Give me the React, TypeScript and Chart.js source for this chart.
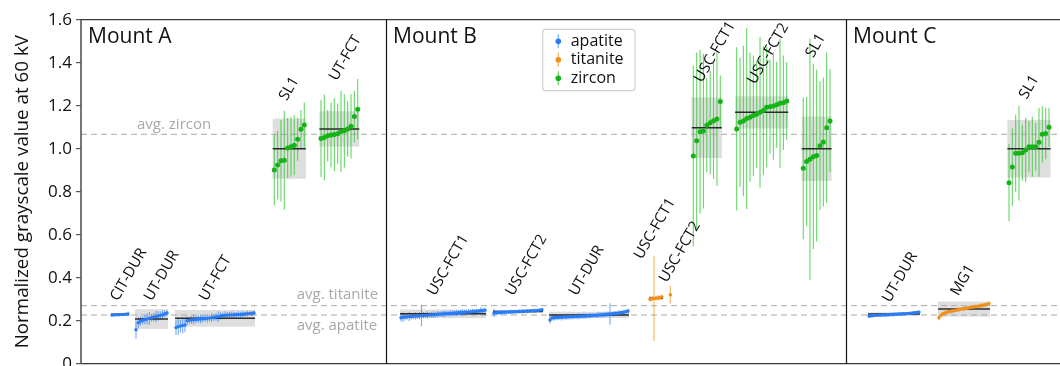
import React, { useEffect, useRef } from "react";
import { Chart, registerables } from "chart.js";

Chart.register(...registerables);

const FONT = '"Open Sans", "DejaVu Sans", sans-serif';

// ---- axis ----
const yTickValues = [0, 0.2, 0.4, 0.6, 0.8, 1.0, 1.2, 1.4, 1.6];
const yTickLabels = ["0", "0.2", "0.4", "0.6", "0.8", "1.0", "1.2", "1.4", "1.6"];
const yTitle = "Normalized grayscale value at 60 kV";

// ---- mounts and minerals ----
const mountNames = ["Mount A", "Mount B", "Mount C"];
const mineralNames = ["apatite", "titanite", "zircon"];

// ---- reference averages per mineral ----
const avgNames = ["avg. zircon", "avg. titanite", "avg. apatite"];
const avgValues = [1.067, 0.27, 0.2265];

// ---- per-grain normalized values and 1-sigma errors ----
// Mount A
const aCitDurAp = [0.226, 0.227, 0.228, 0.228, 0.229, 0.229, 0.230, 0.231];
const aCitDurApErr = [0.007, 0.006, 0.006, 0.005, 0.006, 0.007, 0.006, 0.012];
const aUtDurAp = [0.158, 0.190, 0.197, 0.201, 0.205, 0.208, 0.211, 0.214, 0.216, 0.219, 0.222, 0.225, 0.228, 0.232, 0.236];
const aUtDurApErr = [0.042, 0.026, 0.020, 0.018, 0.022, 0.024, 0.030, 0.018, 0.020, 0.026, 0.022, 0.018, 0.020, 0.015, 0.012];
const aUtFctAp = [0.168, 0.172, 0.175, 0.178, 0.180, 0.200, 0.202, 0.203, 0.205, 0.206, 0.207, 0.208, 0.209, 0.210, 0.211, 0.212, 0.214, 0.215, 0.217, 0.219, 0.222, 0.224, 0.225, 0.226, 0.227, 0.227, 0.228, 0.228, 0.229, 0.229, 0.230, 0.231, 0.232, 0.233, 0.234, 0.236];
const aUtFctApErr = [0.034, 0.038, 0.030, 0.036, 0.032, 0.020, 0.016, 0.018, 0.022, 0.015, 0.017, 0.020, 0.016, 0.014, 0.018, 0.016, 0.020, 0.015, 0.017, 0.024, 0.016, 0.014, 0.018, 0.015, 0.013, 0.016, 0.014, 0.012, 0.015, 0.013, 0.014, 0.012, 0.013, 0.011, 0.012, 0.010];
const aSl1Zr = [0.901, 0.924, 0.944, 0.946, 1.003, 1.009, 1.016, 1.044, 1.090, 1.110];
const aSl1ZrErr = [0.165, 0.16, 0.19, 0.23, 0.14, 0.14, 0.14, 0.10, 0.09, 0.105];
const aUtFctZr = [1.048, 1.052, 1.060, 1.064, 1.066, 1.070, 1.080, 1.083, 1.092, 1.105, 1.150, 1.184];
const aUtFctZrErr = [0.18, 0.20, 0.12, 0.15, 0.17, 0.14, 0.19, 0.17, 0.13, 0.15, 0.12, 0.14];

// Mount B
const bUscFct1Ap = [0.214, 0.216, 0.217, 0.218, 0.219, 0.220, 0.221, 0.222, 0.222, 0.223, 0.224, 0.225, 0.225, 0.226, 0.227, 0.228, 0.228, 0.229, 0.230, 0.231, 0.231, 0.232, 0.233, 0.233, 0.234, 0.235, 0.236, 0.236, 0.237, 0.238, 0.238, 0.239, 0.240, 0.240, 0.241, 0.242, 0.243, 0.244, 0.245, 0.246, 0.247, 0.249];
const bUscFct1ApErr = [0.018, 0.022, 0.016, 0.014, 0.020, 0.015, 0.013, 0.017, 0.014, 0.016, 0.050, 0.015, 0.013, 0.017, 0.012, 0.014, 0.016, 0.013, 0.015, 0.012, 0.014, 0.016, 0.013, 0.012, 0.015, 0.013, 0.011, 0.014, 0.012, 0.013, 0.015, 0.012, 0.011, 0.013, 0.012, 0.014, 0.011, 0.012, 0.010, 0.018, 0.011, 0.012];
const bUscFct2Ap = [0.236, 0.237, 0.238, 0.238, 0.239, 0.239, 0.240, 0.240, 0.241, 0.241, 0.242, 0.242, 0.243, 0.243, 0.244, 0.244, 0.245, 0.245, 0.246, 0.246, 0.247, 0.248, 0.249, 0.251];
const bUscFct2ApErr = [0.020, 0.010, 0.009, 0.011, 0.010, 0.009, 0.010, 0.008, 0.011, 0.009, 0.010, 0.008, 0.010, 0.009, 0.011, 0.008, 0.010, 0.009, 0.008, 0.010, 0.009, 0.008, 0.009, 0.008];
const bUtDurAp = [0.203, 0.213, 0.214, 0.215, 0.215, 0.216, 0.216, 0.217, 0.217, 0.218, 0.218, 0.219, 0.219, 0.220, 0.220, 0.221, 0.221, 0.222, 0.222, 0.223, 0.223, 0.224, 0.225, 0.225, 0.226, 0.227, 0.227, 0.228, 0.229, 0.230, 0.231, 0.232, 0.233, 0.234, 0.235, 0.237, 0.238, 0.240, 0.242, 0.245];
const bUtDurApErr = [0.016, 0.012, 0.014, 0.011, 0.013, 0.012, 0.015, 0.011, 0.012, 0.014, 0.011, 0.013, 0.012, 0.011, 0.014, 0.012, 0.011, 0.013, 0.012, 0.011, 0.013, 0.012, 0.011, 0.012, 0.013, 0.011, 0.012, 0.011, 0.013, 0.012, 0.050, 0.011, 0.012, 0.011, 0.012, 0.010, 0.011, 0.012, 0.010, 0.011];
const bUscFct1Ti = [0.300, 0.302, 0.304, 0.305, 0.306, 0.308, 0.311];
const bUscFct1TiErr = [0.012, 0.010, 0.198, 0.011, 0.012, 0.010, 0.011];
const bUscFct2Ti = [0.321];
const bUscFct2TiErr = [0.042];
const bUscFct1Zr = [0.966, 1.037, 1.079, 1.082, 1.109, 1.121, 1.130, 1.138, 1.220];
const bUscFct1ZrErr = [0.42, 0.41, 0.38, 0.36, 0.22, 0.24, 0.27, 0.31, 0.12];
const bUscFct2Zr = [1.092, 1.123, 1.129, 1.140, 1.146, 1.154, 1.160, 1.169, 1.178, 1.193, 1.195, 1.199, 1.205, 1.211, 1.214, 1.222];
const bUscFct2ZrErr = [0.38, 0.30, 0.35, 0.42, 0.30, 0.28, 0.25, 0.35, 0.30, 0.28, 0.22, 0.25, 0.20, 0.30, 0.22, 0.18];
const bSl1Zr = [0.909, 0.940, 0.951, 0.963, 0.968, 1.014, 1.031, 1.098, 1.129];
const bSl1ZrErr = [0.33, 0.30, 0.56, 0.43, 0.40, 0.30, 0.30, 0.35, 0.24];

// Mount C
const cUtDurAp = [0.222, 0.223, 0.224, 0.225, 0.225, 0.226, 0.226, 0.227, 0.227, 0.228, 0.228, 0.229, 0.229, 0.230, 0.230, 0.231, 0.231, 0.232, 0.232, 0.233, 0.234, 0.235, 0.236, 0.237, 0.238, 0.240];
const cUtDurApErr = [0.010, 0.008, 0.009, 0.007, 0.008, 0.009, 0.008, 0.007, 0.009, 0.008, 0.007, 0.008, 0.009, 0.007, 0.008, 0.008, 0.007, 0.009, 0.008, 0.007, 0.008, 0.007, 0.008, 0.007, 0.008, 0.007];
const cMg1Ti = [0.214, 0.226, 0.232, 0.236, 0.239, 0.242, 0.244, 0.246, 0.248, 0.250, 0.252, 0.254, 0.255, 0.257, 0.258, 0.260, 0.262, 0.263, 0.265, 0.266, 0.268, 0.270, 0.272, 0.274, 0.276, 0.279];
const cMg1TiErr = [0.012, 0.011, 0.010, 0.012, 0.009, 0.011, 0.010, 0.012, 0.009, 0.010, 0.011, 0.009, 0.010, 0.012, 0.009, 0.010, 0.011, 0.009, 0.010, 0.009, 0.011, 0.010, 0.009, 0.010, 0.009, 0.010];
const cSl1Zr = [0.842, 0.915, 0.979, 0.979, 0.981, 0.994, 1.009, 1.009, 1.009, 1.030, 1.067, 1.071, 1.0995];
const cSl1ZrErr = [0.18, 0.18, 0.18, 0.22, 0.13, 0.15, 0.12, 0.14, 0.11, 0.16, 0.13, 0.12, 0.09];

// ---- sample groups (parallel arrays) ----
const groupNames = ["CIT-DUR", "UT-DUR", "UT-FCT", "SL1", "UT-FCT", "USC-FCT1", "USC-FCT2", "UT-DUR", "USC-FCT1", "USC-FCT2", "USC-FCT1", "USC-FCT2", "SL1", "UT-DUR", "MG1", "SL1"];
const groupMinerals = [0, 0, 0, 2, 2, 0, 0, 0, 1, 1, 2, 2, 2, 0, 1, 2];
const groupValues = [aCitDurAp, aUtDurAp, aUtFctAp, aSl1Zr, aUtFctZr, bUscFct1Ap, bUscFct2Ap, bUtDurAp, bUscFct1Ti, bUscFct2Ti, bUscFct1Zr, bUscFct2Zr, bSl1Zr, cUtDurAp, cMg1Ti, cSl1Zr];
const groupErrors = [aCitDurApErr, aUtDurApErr, aUtFctApErr, aSl1ZrErr, aUtFctZrErr, bUscFct1ApErr, bUscFct2ApErr, bUtDurApErr, bUscFct1TiErr, bUscFct2TiErr, bUscFct1ZrErr, bUscFct2ZrErr, bSl1ZrErr, cUtDurApErr, cMg1TiErr, cSl1ZrErr];
// group mean (black line) and half-height of the grey band
const groupMeans = [0.230, 0.208, 0.211, 1.0, 1.092, 0.232, 0.243, 0.227, 0.305, 0.321, 1.098, 1.169, 1.0, 0.231, 0.254, 1.0];
const groupSpreads = [0.004, 0.046, 0.039, 0.14, 0.082, 0.02, 0.006, 0.015, 0.008, 0.0, 0.141, 0.075, 0.15, 0.008, 0.035, 0.134];

// ---- layout along the x axis (plot units) ----
const xMax = 1029;
const mountEdges = [0, 305, 765, xMax];
const groupSpans = [[31, 47], [55, 86], [95, 173], [193.3, 223.3], [240, 276.7], [320, 404], [413, 461], [469, 547], [569, 581], [589.3, 589.3], [612.3, 639.3], [655.7, 705.7], [722.3, 749], [788, 838], [858, 908], [928, 968]];
const labelAnchors = [[37, 0.288], [70.7, 0.288], [125.7, 0.288], [205.7, 1.219], [255.7, 1.312], [354, 0.312], [432.3, 0.312], [495.7, 0.312], [560.7, 0.482], [585.7, 0.374], [620.7, 1.304], [674, 1.296], [732.3, 1.42], [809, 0.281], [877.3, 0.312], [945.7, 1.227]];
const avgLabelPos = [[56, -5, "left"], [215.7, -6.5, "left"], [215.7, 15, "left"]];

// ---- styles ----
const pointColors = ["#2a7cf5", "#f0901c", "#15b315"];
const barColors = ["rgba(42,124,245,0.65)", "rgba(240,144,28,0.7)", "rgba(50,200,50,0.75)"];
const pointRadius = [1.7, 1.7, 2.5];
const BAND = "rgba(205,205,205,0.65)";
const AVG_COLOR = "#a9a9a9";

function groupX(gi: number, i: number): number {
  const [s, e] = groupSpans[gi];
  const n = groupValues[gi].length;
  return n > 1 ? s + ((e - s) * i) / (n - 1) : s;
}

const drawPlugin = {
  id: "mountPanels",
  beforeDatasetsDraw(chart: any) {
    const { ctx, chartArea, scales } = chart;
    const x = scales.x;
    const y = scales.y;
    ctx.save();
    ctx.beginPath();
    ctx.rect(chartArea.left, chartArea.top, chartArea.width, chartArea.height);
    ctx.clip();

    // grey bands
    groupValues.forEach((_, gi) => {
      const pad = groupMinerals[gi] === 2 ? 1.6 : 1;
      const x0 = x.getPixelForValue(groupSpans[gi][0] - pad);
      const x1 = x.getPixelForValue(groupSpans[gi][1] + pad);
      const yt = y.getPixelForValue(groupMeans[gi] + groupSpreads[gi]);
      const yb = y.getPixelForValue(groupMeans[gi] - groupSpreads[gi]);
      ctx.fillStyle = BAND;
      ctx.fillRect(x0, yt, x1 - x0, yb - yt);
    });

    // dashed reference averages
    ctx.strokeStyle = AVG_COLOR;
    ctx.lineWidth = 1;
    ctx.setLineDash([6, 4]);
    avgValues.forEach((v) => {
      const py = y.getPixelForValue(v);
      ctx.beginPath();
      ctx.moveTo(chartArea.left, py);
      ctx.lineTo(chartArea.right, py);
      ctx.stroke();
    });
    ctx.setLineDash([]);

    // error bars
    chart.data.datasets.forEach((_: any, gi: number) => {
      const meta = chart.getDatasetMeta(gi);
      ctx.strokeStyle = barColors[groupMinerals[gi]];
      ctx.lineWidth = 1.1;
      meta.data.forEach((pt: any, i: number) => {
        const v = groupValues[gi][i];
        const e = groupErrors[gi][i];
        ctx.beginPath();
        ctx.moveTo(pt.x, y.getPixelForValue(v + e));
        ctx.lineTo(pt.x, y.getPixelForValue(v - e));
        ctx.stroke();
      });
    });

    // mean lines
    ctx.strokeStyle = "#2b2b2b";
    ctx.lineWidth = 1.5;
    groupValues.forEach((_, gi) => {
      const pad = groupMinerals[gi] === 2 ? 1.6 : 1;
      const py = y.getPixelForValue(groupMeans[gi]);
      ctx.beginPath();
      ctx.moveTo(x.getPixelForValue(groupSpans[gi][0] - pad), py);
      ctx.lineTo(x.getPixelForValue(groupSpans[gi][1] + pad), py);
      ctx.stroke();
    });
    ctx.restore();
  },
  afterDraw(chart: any) {
    const { ctx, chartArea, scales } = chart;
    const x = scales.x;
    const y = scales.y;
    ctx.save();

    // frame
    ctx.strokeStyle = "#3a3a3a";
    ctx.lineWidth = 1.2;
    ctx.beginPath();
    ctx.moveTo(chartArea.left, chartArea.top);
    ctx.lineTo(chartArea.right, chartArea.top);
    ctx.moveTo(chartArea.left, chartArea.bottom);
    ctx.lineTo(chartArea.right, chartArea.bottom);
    ctx.stroke();
    ctx.strokeStyle = "#555";
    ctx.lineWidth = 1.6;
    ctx.beginPath();
    ctx.moveTo(chartArea.left, chartArea.top);
    ctx.lineTo(chartArea.left, chartArea.bottom);
    ctx.stroke();

    // mount separators
    ctx.strokeStyle = "#111";
    ctx.lineWidth = 1.2;
    mountEdges.slice(1, -1).forEach((m) => {
      const px = Math.round(x.getPixelForValue(m)) + 0.5;
      ctx.beginPath();
      ctx.moveTo(px, chartArea.top);
      ctx.lineTo(px, chartArea.bottom);
      ctx.stroke();
    });

    // mount titles
    ctx.fillStyle = "#111";
    ctx.font = `21px ${FONT}`;
    ctx.textAlign = "left";
    ctx.textBaseline = "alphabetic";
    mountNames.forEach((name, mi) => {
      ctx.fillText(name, x.getPixelForValue(mountEdges[mi]) + 7, chartArea.top + 23.6);
    });

    // average labels
    ctx.fillStyle = AVG_COLOR;
    ctx.font = `15px ${FONT}`;
    avgNames.forEach((name, ai) => {
      const [ax, dy, align] = avgLabelPos[ai] as [number, number, CanvasTextAlign];
      ctx.textAlign = align;
      ctx.fillText(name, x.getPixelForValue(ax), y.getPixelForValue(avgValues[ai]) + dy);
    });

    // rotated sample labels
    ctx.fillStyle = "#111";
    ctx.font = `15px ${FONT}`;
    ctx.textAlign = "left";
    groupNames.forEach((name, gi) => {
      const [lx, ly] = labelAnchors[gi];
      ctx.save();
      ctx.translate(x.getPixelForValue(lx), y.getPixelForValue(ly));
      ctx.rotate(-Math.PI / 3);
      ctx.fillText(name, 0, 0);
      ctx.restore();
    });

    // legend
    const lx = chartArea.left + 461.7;
    const ly = chartArea.top + 9.6;
    const lw = 92.3;
    const lh = 61.4;
    ctx.fillStyle = "rgba(255,255,255,0.9)";
    ctx.strokeStyle = "#d0d0d0";
    ctx.lineWidth = 1.2;
    ctx.beginPath();
    ctx.roundRect(lx, ly, lw, lh, 3);
    ctx.fill();
    ctx.stroke();
    ctx.font = `16px ${FONT}`;
    ctx.textBaseline = "middle";
    mineralNames.forEach((name, mi) => {
      const cy = ly + 12 + mi * 18.5;
      const cx = lx + 15.6;
      ctx.strokeStyle = barColors[mi];
      ctx.lineWidth = 1.2;
      ctx.beginPath();
      ctx.moveTo(cx, cy - 7);
      ctx.lineTo(cx, cy + 7);
      ctx.stroke();
      ctx.fillStyle = pointColors[mi];
      ctx.beginPath();
      ctx.arc(cx, cy, 2.8, 0, Math.PI * 2);
      ctx.fill();
      ctx.fillStyle = "#111";
      ctx.fillText(name, lx + 28, cy);
    });
    ctx.restore();
  },
};

export default function App() {
  const canvasRef = useRef<HTMLCanvasElement | null>(null);

  useEffect(() => {
    const canvas = canvasRef.current;
    if (!canvas) return;
    const datasets = groupValues.map((vals, gi) => ({
      label: groupNames[gi],
      data: vals.map((v, i) => ({ x: groupX(gi, i), y: v })),
      backgroundColor: pointColors[groupMinerals[gi]],
      borderWidth: 0,
      pointRadius: pointRadius[groupMinerals[gi]],
      pointHoverRadius: pointRadius[groupMinerals[gi]],
    }));
    const chart = new Chart(canvas, {
      type: "scatter",
      data: { datasets },
      options: {
        animation: false,
        responsive: false,
        devicePixelRatio: 1,
        layout: { padding: { top: 19.7, right: 10, bottom: 36.3, left: 0 } },
        plugins: { legend: { display: false }, tooltip: { enabled: false } },
        scales: {
          x: { type: "linear", min: 0, max: xMax, display: false },
          y: {
            min: 0,
            max: 1.6,
            afterBuildTicks: (scale: any) => {
              scale.ticks = yTickValues.map((v) => ({ value: v }));
            },
            afterFit: (scale: any) => {
              scale.width = 81;
            },
            ticks: {
              font: { family: FONT, size: 17 },
              color: "#111",
              padding: 4,
              callback: (v: any) => yTickLabels[yTickValues.findIndex((t) => Math.abs(t - v) < 1e-6)] ?? "",
            },
            grid: { drawOnChartArea: false, tickLength: 5, color: "#555", lineWidth: 1.2 },
            border: { display: false },
            title: {
              display: true,
              text: yTitle,
              font: { family: FONT, size: 18.8 },
              color: "#111",
              padding: { top: 11, bottom: 0 },
            },
          },
        },
      },
      plugins: [drawPlugin],
    });
    return () => chart.destroy();
  }, []);

  return (
    <div style={{ position: "absolute", left: 0, top: 0, width: 1060, height: 366, overflow: "hidden", background: "#fff" }}>
      <canvas ref={canvasRef} width={1120} height={400} style={{ display: "block", width: 1120, height: 400 }} />
    </div>
  );
}
